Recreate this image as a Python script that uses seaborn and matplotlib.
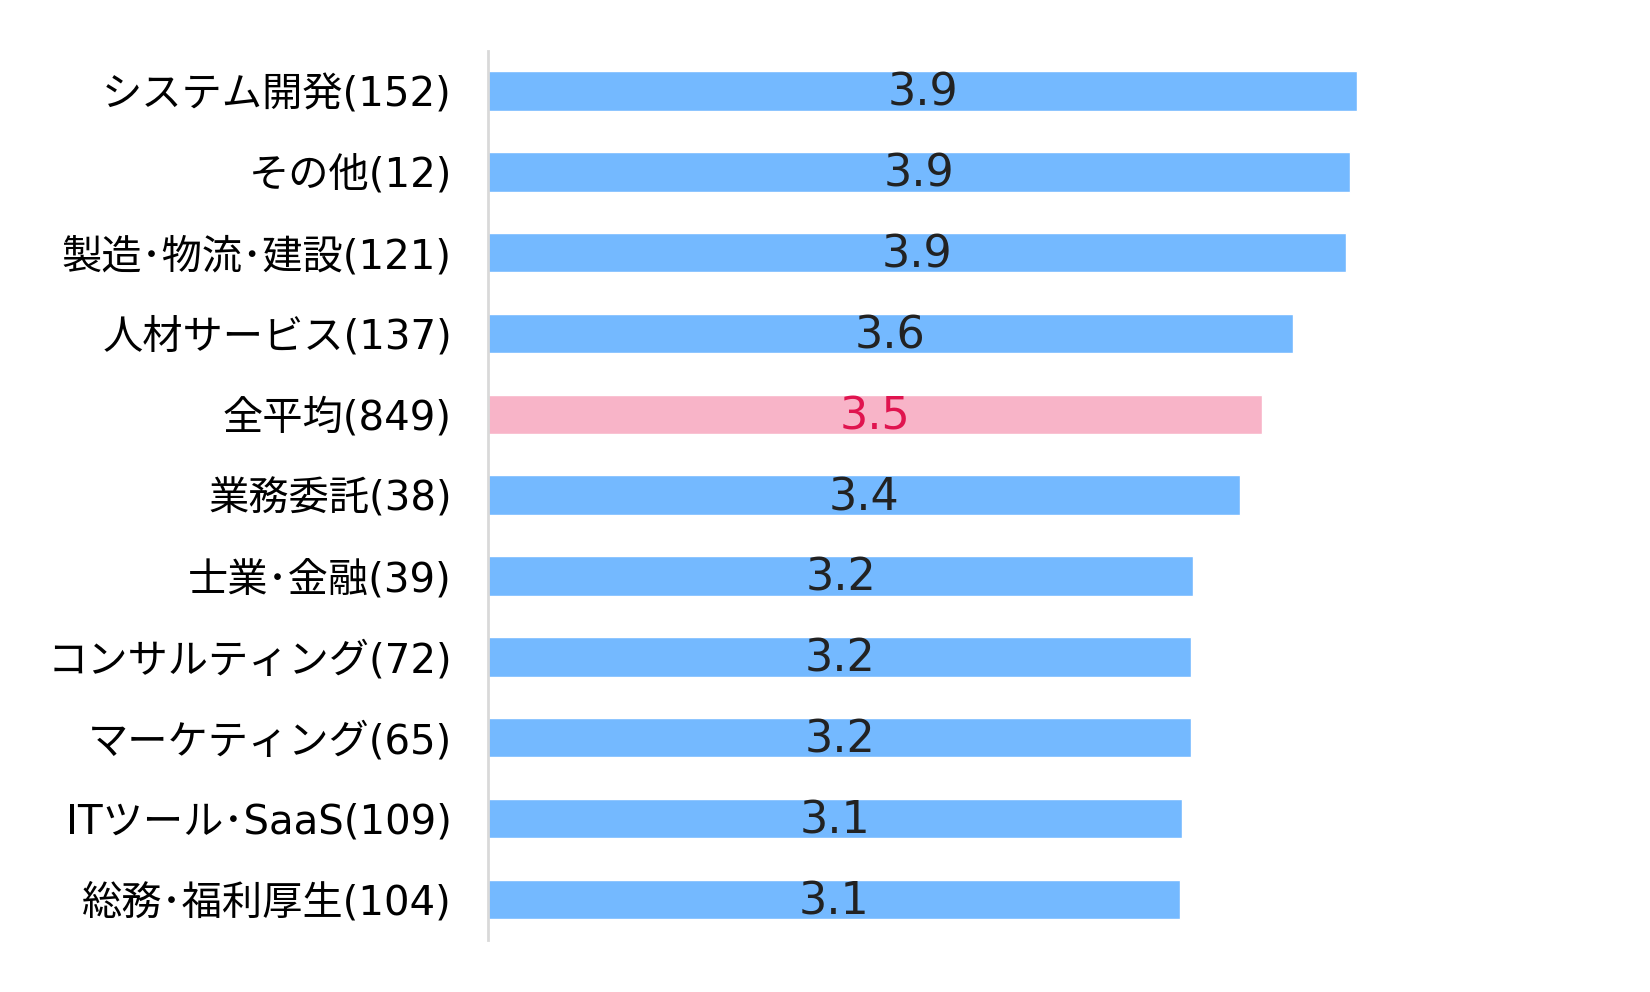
import matplotlib
matplotlib.use("Agg")
import matplotlib.pyplot as plt
import seaborn as sns
import pandas as pd

categories = [
    "システム開発(152)",
    "その他(12)",
    "製造･物流･建設(121)",
    "人材サービス(137)",
    "全平均(849)",
    "業務委託(38)",
    "士業･金融(39)",
    "コンサルティング(72)",
    "マーケティング(65)",
    "ITツール･SaaS(109)",
    "総務･福利厚生(104)",
]
scores = [3.93, 3.90, 3.88, 3.64, 3.50, 3.40, 3.19, 3.18, 3.18, 3.14, 3.13]
highlight = "全平均(849)"

BLUE = "#74B9FF"
PINK = "#F8B4C8"
LABEL_RED = "#E0144F"
TEXT = "#222222"

sns.set_theme(style="white")
plt.rcParams["font.family"] = ["DejaVu Sans", "Noto Sans CJK JP"]

df = pd.DataFrame({"category": categories, "score": scores})
palette = {c: (PINK if c == highlight else BLUE) for c in categories}

fig = plt.figure(figsize=(16.5, 9.92), dpi=100)
ax = fig.add_axes([0.2958, 0.0527, 0.67, 0.8963])

sns.barplot(data=df, x="score", y="category", hue="category", palette=palette,
            order=categories, width=0.49, legend=False, ax=ax, saturation=1)

ax.set_xlim(0, 5.0)
ax.set_ylim(len(categories) - 0.5, -0.5)

for i, (cat, val) in enumerate(zip(categories, scores)):
    color = LABEL_RED if cat == highlight else TEXT
    ax.text(val / 2, i + 0.03, f"{val:.1f}", ha="center", va="center",
            fontsize=32, color=color)

ax.set_xlabel("")
ax.set_ylabel("")
ax.set_xticks([])
ax.tick_params(axis="y", length=0, pad=26, labelsize=29, labelcolor="black")
for side in ["top", "right", "bottom"]:
    ax.spines[side].set_visible(False)
ax.spines["left"].set_color("#D9D9D9")
ax.spines["left"].set_linewidth(2)

fig.savefig("out.png", dpi=100, facecolor="white")
